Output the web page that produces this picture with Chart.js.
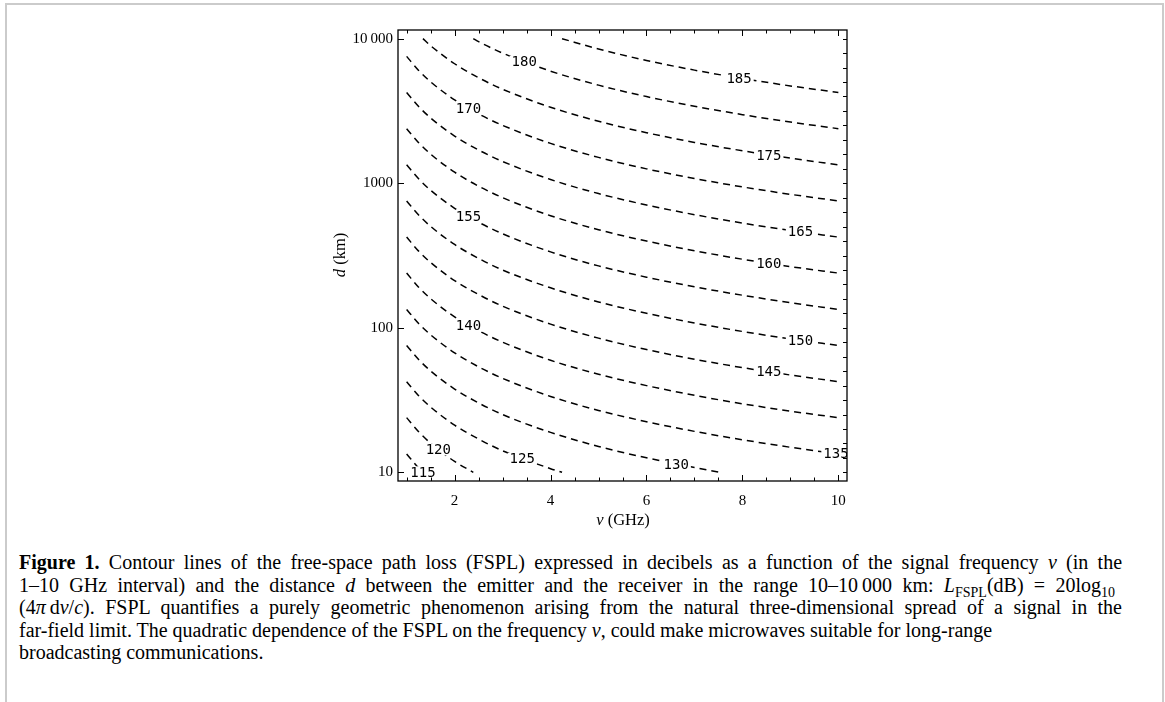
<!DOCTYPE html>
<html>
<head>
<meta charset="utf-8">
<script src="https://cdn.jsdelivr.net/npm/chart.js@4.4.1/dist/chart.umd.min.js"></script>
<style>
  body { margin: 0; background: #fff; }
  #pagina { position: relative; width: 1165px; height: 702px; overflow: hidden; font-family: "Liberation Serif", serif; color: #000; }
  #bordo { position: absolute; left: 5px; top: 3px; width: 1155px; height: 720px; border: 2px solid #cbcbcb; border-bottom: none; }
  #grafico { position: absolute; left: 0; top: 0; }
  .asse { position: absolute; font-size: 16.5px; white-space: nowrap; text-align: center; width: 120px; height: 18px; line-height: 18px; }
  #titoloX { left: 563px; top: 511px; }
  #titoloY { left: 280px; top: 246px; transform: rotate(-90deg); }
  #didascalia { position: absolute; left: 19px; top: 551px; font-size: 20px; line-height: 22.5px; }
  .riga { white-space: nowrap; height: 22.5px; }
  .piena { text-align: justify; text-align-last: justify; white-space: normal; }
  sub { font-size: 70%; line-height: 0; }
</style>
</head>
<body>
<div id="pagina">
  <div id="bordo"></div>
  <canvas id="grafico" width="1165" height="515"></canvas>
  <div class="asse" id="titoloX"><i>ν</i> (GHz)</div>
  <div class="asse" id="titoloY"><i>d</i> (km)</div>
  <div id="didascalia">
    <div class="riga piena" style="width:1103px"><b>Figure 1.</b> Contour lines of the free-space path loss (FSPL) expressed in decibels as a function of the signal frequency <i>ν</i> (in the</div>
    <div class="riga piena" style="width:1096px">1–10 GHz interval) and the distance <i>d</i> between the emitter and the receiver in the range 10–10&#8201;000 km: <i>L</i><sub>FSPL</sub>(dB) = 20log<sub>10</sub></div>
    <div class="riga piena" style="width:1103px">(4<i>π</i>&#8201;d<i>ν</i>/<i>c</i>). FSPL quantifies a purely geometric phenomenon arising from the natural three-dimensional spread of a signal in the</div>
    <div class="riga">far-field limit. The quadratic dependence of the FSPL on the frequency <i>ν</i>, could make microwaves suitable for long-range</div>
    <div class="riga">broadcasting communications.</div>
  </div>
</div>
<script>
// livelli delle curve (dB)
const livelli = [115, 120, 125, 130, 135, 140, 145, 150, 155, 160, 165, 170, 175, 180, 185];

// frequenze (GHz) a cui sono letti i punti delle curve
const nuGriglia = [1, 1.25, 1.5, 2, 2.5, 3, 4, 5, 6, 7, 8, 9, 10];

// distanze (km) lette per ogni curva, null = fuori dalla finestra 10–10 000 km
const d115 = [13.4, 10.7, null, null, null, null, null, null, null, null, null, null, null];
const d120 = [23.9, 19.1, 15.9, 11.9, null, null, null, null, null, null, null, null, null];
const d125 = [42.4, 33.9, 28.3, 21.2, 17.0, 14.1, 10.6, null, null, null, null, null, null];
const d130 = [75.4, 60.3, 50.3, 37.7, 30.2, 25.1, 18.9, 15.1, 12.6, 10.8, null, null, null];
const d135 = [134, 107, 89.4, 67.1, 53.7, 44.7, 33.5, 26.8, 22.4, 19.2, 16.8, 14.9, 13.4];
const d140 = [239, 191, 159, 119, 95.4, 79.5, 59.6, 47.7, 39.8, 34.1, 29.8, 26.5, 23.9];
const d145 = [424, 339, 283, 212, 170, 141, 106, 84.8, 70.7, 60.6, 53.0, 47.1, 42.4];
const d150 = [754, 603, 503, 377, 302, 251, 189, 151, 126, 108, 94.3, 83.8, 75.4];
const d155 = [1341, 1073, 894, 671, 537, 447, 335, 268, 224, 192, 168, 149, 134];
const d160 = [2385, 1908, 1590, 1193, 954, 795, 596, 477, 398, 341, 298, 265, 239];
const d165 = [4242, 3394, 2828, 2121, 1697, 1414, 1061, 848, 707, 606, 530, 471, 424];
const d170 = [7543, 6034, 5029, 3771, 3017, 2514, 1886, 1509, 1257, 1078, 943, 838, 754];
const d175 = [null, null, 8943, 6707, 5366, 4471, 3354, 2683, 2236, 1916, 1677, 1490, 1341];
const d180 = [null, null, null, null, 9541, 7951, 5963, 4771, 3976, 3408, 2982, 2650, 2385];
const d185 = [null, null, null, null, null, null, null, 8484, 7070, 6060, 5302, 4713, 4242];

// punto in cui la curva esce dalla finestra (bordo a 10 km o a 10 000 km)
const bordoNu = [1.34, 2.39, 4.24, 7.54, null, null, null, null, null, null, null, null, 1.34, 2.39, 4.24];
const bordoD = [10, 10, 10, 10, null, null, null, null, null, null, null, null, 10000, 10000, 10000];

// posizione delle etichette sulle curve
const etichettaNu = [1.34, 1.66, 3.41, 6.62, 9.95, 2.29, 8.55, 9.21, 2.29, 8.55, 9.21, 2.29, 8.55, 3.45, 7.93];
const etichettaD = [10, 14.4, 12.4, 11.4, 13.5, 104, 49.6, 81.9, 586, 279, 461, 3294, 1569, 6914, 5349];

// tacche degli assi
const tickX = [2, 4, 6, 8, 10];
const tickY = [10, 100, 1000, 10000];

const distanze = [d115, d120, d125, d130, d135, d140, d145, d150, d155, d160, d165, d170, d175, d180, d185];

const datasets = livelli.map((lv, i) => {
    const punti = [];
    nuGriglia.forEach((nu, j) => {
        if (distanze[i][j] !== null) punti.push({ x: nu, y: distanze[i][j] });
    });
    if (bordoNu[i] !== null) punti.push({ x: bordoNu[i], y: bordoD[i] });
    punti.sort((a, b) => a.x - b.x);
    return {
        label: String(lv),
        data: punti,
        borderColor: '#000',
        borderWidth: 1.5,
        borderDash: [7, 5],
        pointRadius: 0,
        fill: false,
        cubicInterpolationMode: 'monotone'
    };
});

function linea(ctx, x1, y1, x2, y2) {
    ctx.beginPath();
    ctx.moveTo(x1, y1);
    ctx.lineTo(x2, y2);
    ctx.stroke();
}

const cornice = {
    id: 'cornice',
    afterDatasetsDraw(chart) {
        const { ctx, chartArea: a } = chart;
        const sx = chart.scales.x, sy = chart.scales.y;

        // etichette dei livelli
        ctx.save();
        ctx.beginPath();
        ctx.rect(a.left, a.top, a.right - a.left, a.bottom - a.top);
        ctx.clip();
        ctx.font = '14px "DejaVu Sans Mono"';
        ctx.textAlign = 'center';
        ctx.textBaseline = 'middle';
        livelli.forEach((lv, i) => {
            const px = sx.getPixelForValue(etichettaNu[i]);
            const py = sy.getPixelForValue(etichettaD[i]);
            const w = ctx.measureText(String(lv)).width;
            ctx.fillStyle = '#fff';
            ctx.fillRect(px - w / 2 - 2, py - 6, w + 4, 12);
            ctx.fillStyle = '#000';
            ctx.fillText(String(lv), px, py + 1);
        });
        ctx.restore();

        // cornice e tacche
        ctx.save();
        ctx.strokeStyle = '#000';
        ctx.lineWidth = 1.3;
        ctx.strokeRect(a.left, a.top, a.right - a.left, a.bottom - a.top);
        ctx.lineWidth = 1;
        for (let k = 2; k <= 20; k++) {
            const v = k / 2;
            const px = Math.round(sx.getPixelForValue(v)) + 0.5;
            const l = (v % 2 === 0) ? 6 : 3.5;
            linea(ctx, px, a.bottom, px, a.bottom - l);
            linea(ctx, px, a.top, px, a.top + l);
        }
        tickY.forEach(v => {
            const py = Math.round(sy.getPixelForValue(v)) + 0.5;
            linea(ctx, a.left, py, a.left + 6, py);
        });
        for (let k = 10; k <= 40; k++) {
            const py = Math.round(sy.getPixelForValue(Math.pow(10, k / 10))) + 0.5;
            linea(ctx, a.right, py, a.right - 4, py);
        }
        ctx.restore();
    }
};

const grafico = new Chart(document.getElementById('grafico').getContext('2d'), {
    type: 'line',
    data: { datasets: datasets },
    options: {
        responsive: false,
        animation: false,
        events: [],
        layout: { padding: { left: 338, right: 318, top: 30, bottom: 0 } },
        plugins: { legend: { display: false }, tooltip: { enabled: false } },
        scales: {
            x: {
                type: 'linear',
                min: 0.82,
                max: 10.18,
                grid: { display: false, drawTicks: false },
                border: { display: false },
                afterBuildTicks: (s) => { s.ticks = tickX.map(v => ({ value: v })); },
                afterFit: (s) => { s.height = 34; },
                ticks: {
                    color: '#000',
                    padding: 11,
                    maxRotation: 0,
                    font: { family: 'Liberation Serif', size: 15 }
                }
            },
            y: {
                type: 'logarithmic',
                min: 8.71,
                max: 11482,
                grid: { display: false, drawTicks: false },
                border: { display: false },
                afterBuildTicks: (s) => { s.ticks = tickY.map(v => ({ value: v })); },
                afterFit: (s) => { s.width = 60; },
                ticks: {
                    color: '#000',
                    padding: 5,
                    font: { family: 'Liberation Serif', size: 15 },
                    callback: (v) => v === 10000 ? '10\u2009000' : String(v)
                }
            }
        }
    },
    plugins: [cornice]
});
</script>
</body>
</html>
